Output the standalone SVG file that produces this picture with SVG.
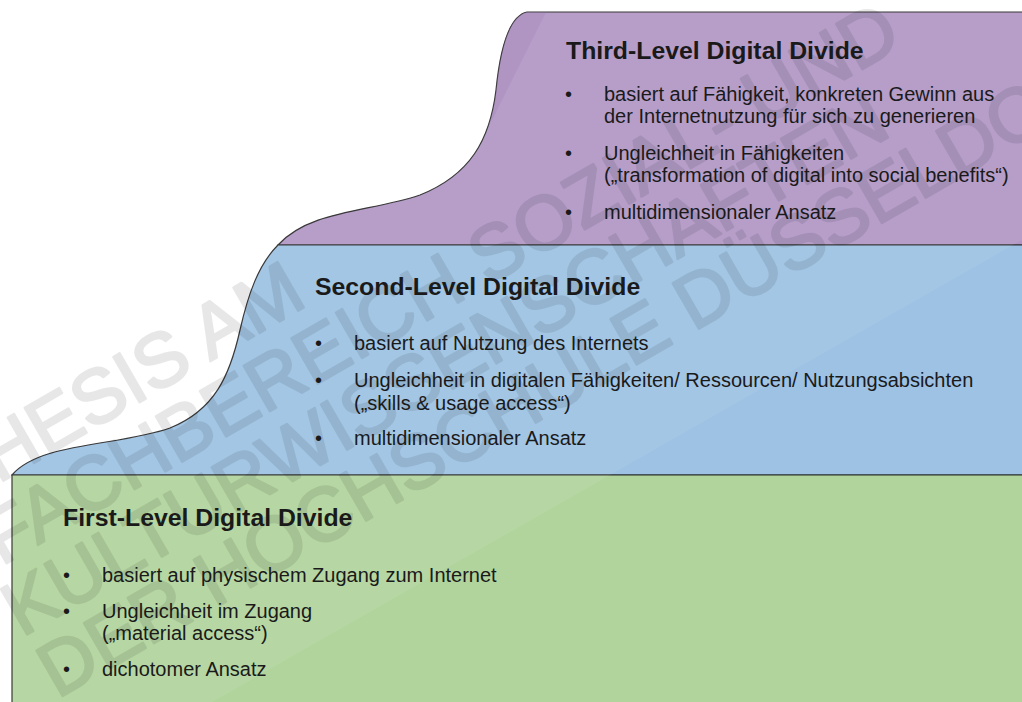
<svg xmlns="http://www.w3.org/2000/svg" width="1022" height="702" viewBox="0 0 1022 702">
  <defs>
    <style>
      .title { font-family: "Liberation Sans", Arial, sans-serif; font-weight: bold; font-size: 24.8px; fill: #1a1a1a; }
      .body { font-family: "Liberation Sans", Arial, sans-serif; font-size: 20px; fill: #1a1a1a; }
      .outline { stroke: #2a2a2a; stroke-width: 1.2; }
      .wm { font-family: "Liberation Sans", Arial, sans-serif; font-size: 76px; fill: #000; stroke: #000; stroke-width: 2.5; stroke-linejoin: round; }
    </style>
    <clipPath id="clipPurple">
      <path d="M 527 12 C 508 16, 500 50, 496 90 C 490 140, 470 175, 420 195 C 370 212, 310 210, 278 245 L 1030 245 L 1030 12 Z"/>
    </clipPath>
  </defs>
  <rect x="0" y="0" width="1022" height="702" fill="#ffffff"/>

  <g id="level3">
    <path class="outline" fill="#b197c5" d="M 527 12 C 508 16, 500 50, 496 90 C 490 140, 470 175, 420 195 C 370 212, 310 210, 278 245 L 1030 245 L 1030 12 Z"/>
    <polygon points="470,0 552,0 492,120 470,160" fill="#8a63a8" fill-opacity="0.18" clip-path="url(#clipPurple)"/>
  </g>

  <g id="level2">
    <path class="outline" fill="#9dc2e4" d="M 278 245 C 258 265, 248 295, 240 330 C 230 375, 215 410, 170 428 C 120 446, 40 442, 12 475 L 1030 475 L 1030 245 Z"/>
  </g>

  <g id="level1">
    <path class="outline" fill="#b1d49c" d="M 12 710 L 12 475 L 1030 475 L 1030 710 Z"/>
  </g>

  <!-- glossy highlight -->
  <polygon points="0,0 1022,0 1022,240 0,823" fill="#ffffff" fill-opacity="0.07"/>

  <!-- watermark -->
  <g id="watermark" opacity="0.09" transform="rotate(-30)">
    <text class="wm" x="-290" y="418">THESIS AM</text>
    <text class="wm" x="-282" y="491">FACHBEREICH SOZIAL- UND</text>
    <text class="wm" x="-300" y="563">KULTURWISSENSCHAFTEN</text>
    <text class="wm" x="-300" y="634">DER HOCHSCHULE DÜSSELDORF</text>
  </g>

  <g id="text3">
    <text class="title" x="566" y="59">Third-Level Digital Divide</text>
    <text class="body" x="565" y="101">•</text>
    <text class="body" x="604" y="101">basiert auf Fähigkeit, konkreten Gewinn aus</text>
    <text class="body" x="604" y="123">der Internetnutzung für sich zu generieren</text>
    <text class="body" x="565" y="160">•</text>
    <text class="body" x="604" y="160">Ungleichheit in Fähigkeiten</text>
    <text class="body" x="604" y="182">(„transformation of digital into social benefits“)</text>
    <text class="body" x="565" y="219">•</text>
    <text class="body" x="604" y="219">multidimensionaler Ansatz</text>
  </g>

  <g id="text2">
    <text class="title" x="315" y="295">Second-Level Digital Divide</text>
    <text class="body" x="315" y="350">•</text>
    <text class="body" x="354" y="350">basiert auf Nutzung des Internets</text>
    <text class="body" x="315" y="387">•</text>
    <text class="body" x="354" y="387">Ungleichheit in digitalen Fähigkeiten/ Ressourcen/ Nutzungsabsichten</text>
    <text class="body" x="354" y="410">(„skills &amp; usage access“)</text>
    <text class="body" x="315" y="445">•</text>
    <text class="body" x="354" y="445">multidimensionaler Ansatz</text>
  </g>

  <g id="text1">
    <text class="title" x="63" y="526">First-Level Digital Divide</text>
    <text class="body" x="63" y="582">•</text>
    <text class="body" x="102" y="582">basiert auf physischem Zugang zum Internet</text>
    <text class="body" x="63" y="618">•</text>
    <text class="body" x="102" y="618">Ungleichheit im Zugang</text>
    <text class="body" x="102" y="640">(„material access“)</text>
    <text class="body" x="63" y="676">•</text>
    <text class="body" x="102" y="676">dichotomer Ansatz</text>
  </g>

  <g id="connectors"></g>
</svg>
